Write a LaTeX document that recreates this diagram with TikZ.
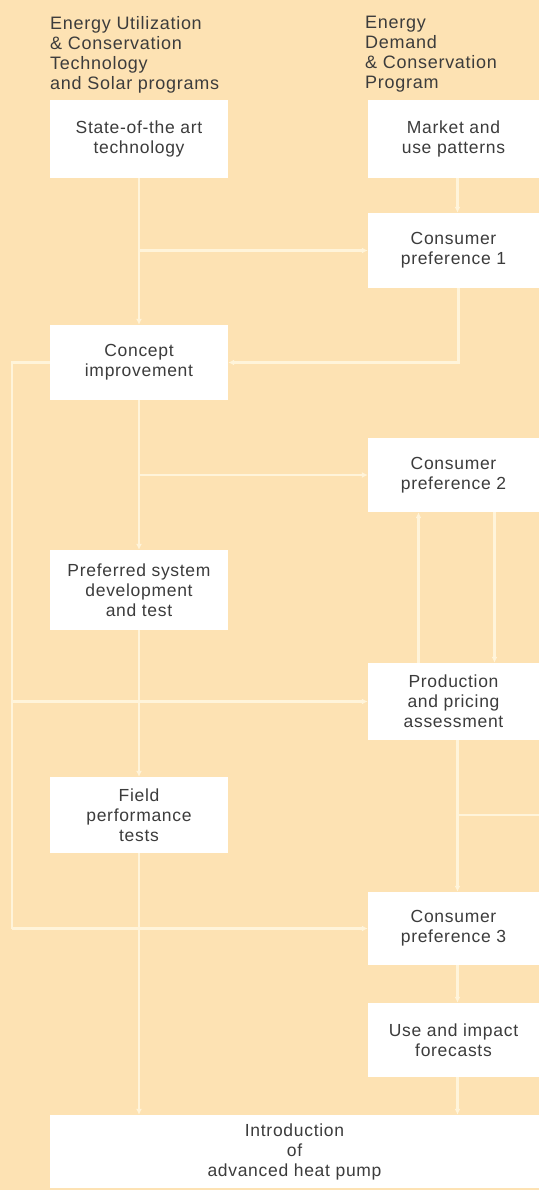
\documentclass[tikz,border=0pt]{standalone}
\usepackage{fontspec}
\setmainfont{Liberation Sans}[LetterSpace=4]
\usetikzlibrary{arrows.meta}
\definecolor{bgpeach}{HTML}{FDE2B3}
\definecolor{linecream}{HTML}{FFF4DA}
\definecolor{txtgray}{HTML}{3C3C3C}
\tikzset{
  box/.style={rectangle, fill=white, draw=none, align=center, inner sep=0pt,
    text=txtgray, font=\fontsize{17.5}{20}\selectfont},
  lbox/.style={box, minimum width=178pt},
  rbox/.style={box, minimum width=171pt},
  conn/.style={draw=linecream, line width=2.2pt},
  arr/.style={conn, -{Latex[length=6pt,width=6pt]}},
  title/.style={align=left, anchor=north west, inner sep=0pt, text=txtgray,
    font=\fontsize{18}{20}\selectfont}
}
\begin{document}
\begin{tikzpicture}[x=1pt,y=-1pt]
\fill[bgpeach] (0,0) rectangle (539,1190);
\useasboundingbox (0,0) rectangle (539,1190);

% titles
\node[title] (tl) at (50,16) {Energy Utilization\\\& Conservation\\Technology\\and Solar programs};
\node[title] (tr) at (365,16) {Energy\\Demand\\\& Conservation\\Program};

% boxes
\node[lbox, minimum height=78pt] (b1) at (139,139) {State-of-the art\\technology};
\node[rbox, minimum height=78pt] (market) at (453.5,139) {Market and\\use patterns};
\node[rbox, minimum height=75pt] (cp1) at (453.5,250.5) {Consumer\\preference 1};
\node[lbox, minimum height=75pt] (concept) at (139,362.5) {Concept\\improvement};
\node[rbox, minimum height=74pt] (cp2) at (453.5,475) {Consumer\\preference 2};
\node[lbox, minimum height=80pt] (pref) at (139,590) {Preferred system\\development\\and test};
\node[rbox, minimum height=77pt] (prod) at (453.5,701.5) {Production\\and pricing\\assessment};
\node[lbox, minimum height=76pt] (field) at (139,815) {Field\\performance\\tests};
\node[rbox, minimum height=73pt] (cp3) at (453.5,928.5) {Consumer\\preference 3};
\node[rbox, minimum height=74pt] (use) at (453.5,1040) {Use and impact\\forecasts};
\node[box, minimum width=489pt, minimum height=73pt] (intro) at (294.5,1151.5) {Introduction\\of\\advanced heat pump};

\coordinate (fl) at (12,0);
\coordinate (re) at (539,815);

% left main line
\draw[arr] (b1.south) -- (concept.north);
\draw[arr] (concept.south) -- (pref.north);
\draw[arr] (pref.south) -- (field.north);
\draw[arr] (field.south) -- (intro.north -| field.south);

% right main line
\draw[arr] ([xshift=4pt]market.south) -- ([xshift=4pt]cp1.north);
\draw[arr] ([xshift=4pt]prod.south) -- ([xshift=4pt]cp3.north);
\draw[arr] ([xshift=4pt]cp3.south) -- ([xshift=4pt]use.north);
\draw[arr] ([xshift=4pt]use.south) -- ([xshift=4pt]use.south |- intro.north);
\draw[conn] ([xshift=4pt]prod.south |- re) -- (re);

% cross links
\draw[arr] (b1.south |- cp1) -- (cp1.west);
\draw[arr] ([xshift=5pt]cp1.south) -- ([xshift=5pt]cp1.south |- concept) -- (concept.east);
\draw[arr] (b1.south |- cp2) -- (cp2.west);
\draw[arr] ([xshift=-35pt]prod.north) -- ([xshift=-35pt]cp2.south);
\draw[arr] ([xshift=41pt]cp2.south) -- ([xshift=41pt]prod.north);

% far-left feedback line
\draw[conn] (concept.west) -- (fl |- concept) -- (fl |- cp3);
\draw[arr] (fl |- prod) -- (prod.west);
\draw[arr] (fl |- cp3) -- (cp3.west);
\end{tikzpicture}
\end{document}
